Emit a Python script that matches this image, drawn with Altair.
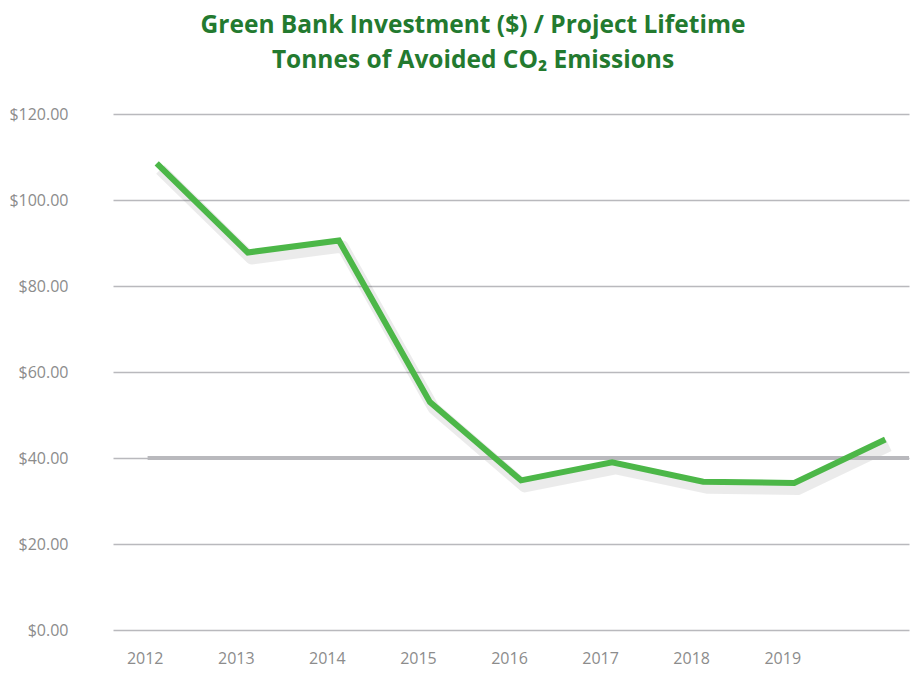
import altair as alt
import pandas as pd

years = [2012, 2013, 2014, 2015, 2016, 2017, 2018, 2019, 2020]
values = [108.5, 87.8, 90.6, 53.0, 34.8, 39.0, 34.5, 34.2, 44.3]
labeled_years = [2012, 2013, 2014, 2015, 2016, 2017, 2018, 2019]
y_ticks = [0, 20, 40, 60, 80, 100, 120]

df = pd.DataFrame({"year": years, "value": values})

x_scale = alt.Scale(domain=[2011.52, 2020.26], nice=False, zero=False)
y_scale = alt.Scale(domain=[0, 120], nice=False)

x_axis = alt.Axis(
    values=labeled_years, format="d", title=None, grid=False, domain=False, ticks=False,
    labelFont="Open Sans", labelFontSize=16, labelColor="#8c8c8c", labelPadding=20,
    labelOffset=-12,
)
y_axis = alt.Axis(
    values=y_ticks, format="$,.2f", title=None, grid=True, gridColor="#b9b9bd", gridWidth=1.6,
    domain=False, ticks=False, labelFont="Open Sans", labelFontSize=16, labelColor="#8c8c8c",
    labelPadding=45,
)

base = alt.Chart(df)

shadow = base.transform_calculate(
    sy="datum.value - 1.4", sx="datum.year + 0.04"
).mark_line(color="#000000", opacity=0.08, strokeWidth=12, strokeJoin="round").encode(
    x=alt.X("sx:Q", scale=x_scale, axis=x_axis),
    y=alt.Y("sy:Q", scale=y_scale, axis=y_axis),
)

thick_rule = alt.Chart(pd.DataFrame({"y": [40], "x0": [2011.9], "x1": [2020.26]})).mark_rule(
    color="#b9b9bd", strokeWidth=4
).encode(
    y=alt.Y("y:Q", scale=y_scale),
    x=alt.X("x0:Q", scale=x_scale),
    x2="x1:Q",
)

line = base.mark_line(color="#4cb748", strokeWidth=6, strokeJoin="miter").encode(
    x=alt.X("year:Q", scale=x_scale, axis=x_axis),
    y=alt.Y("value:Q", scale=y_scale, axis=y_axis),
)

chart = alt.layer(shadow, thick_rule, line).properties(
    width=796,
    height=516,
    padding={"left": 0, "top": 4, "right": 0, "bottom": 2},
    title=alt.TitleParams(
        text=["Green Bank Investment ($) / Project Lifetime", "Tonnes of Avoided CO₂ Emissions"],
        font="Open Sans", fontSize=24.5, fontWeight="bold", color="#237a2f",
        anchor="middle", lineHeight=35, offset=33, dx=-38,
    ),
).configure_view(stroke=None)

chart.save("out.html", embed_options={"renderer": "svg", "actions": False})
